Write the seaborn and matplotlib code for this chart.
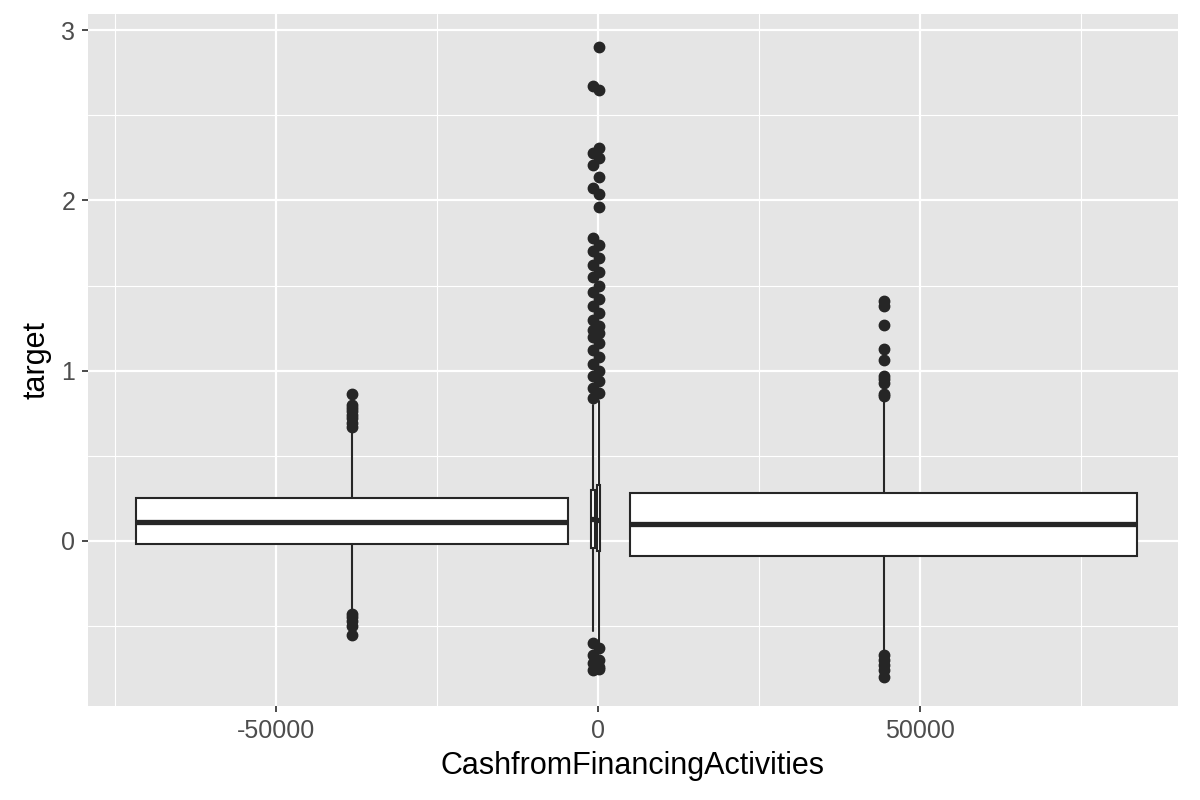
import numpy as np
import matplotlib
matplotlib.use("Agg")
import matplotlib.pyplot as plt
import seaborn as sns

# box positions / widths on the CashfromFinancingActivities axis
positions = [-38200, -800, 100, 44400]
widths = [67000, 600, 350, 78700]

# five-number summaries
q1 = [-0.02, -0.04, -0.06, -0.09]
med = [0.11, 0.13, 0.12, 0.10]
q3 = [0.25, 0.30, 0.33, 0.28]
whislo = [-0.42, -0.53, -0.60, -0.65]
whishi = [0.65, 0.80, 0.82, 0.84]

fliers_left = [0.86, 0.80, 0.78, 0.76, 0.74, 0.72, 0.69, 0.67,
               -0.43, -0.45, -0.47, -0.50, -0.55]
fliers_mid_a = [2.67, 2.28, 2.21, 2.07, 1.78, 1.70, 1.62, 1.55, 1.46, 1.38,
                1.30, 1.24, 1.20, 1.12, 1.04, 0.97, 0.90, 0.84,
                -0.60, -0.67, -0.72, -0.76]
fliers_mid_b = [2.90, 2.65, 2.31, 2.25, 2.14, 2.04, 1.96, 1.74, 1.66, 1.58,
                1.50, 1.42, 1.34, 1.26, 1.22, 1.16, 1.08, 1.00, 0.94, 0.87,
                -0.63, -0.70, -0.74, -0.75]
fliers_right = [1.41, 1.38, 1.27, 1.13, 1.06, 0.97, 0.95, 0.93, 0.86, 0.85,
                -0.67, -0.70, -0.73, -0.76, -0.80]
fliers = [fliers_left, fliers_mid_a, fliers_mid_b, fliers_right]

sns.set_theme(style="darkgrid", rc={
    "axes.facecolor": "#E5E5E5",
    "grid.color": "white",
    "axes.edgecolor": "none",
})
plt.rcParams["font.family"] = ["Liberation Sans", "DejaVu Sans"]

fig = plt.figure(figsize=(12, 8), dpi=100)
ax = fig.add_axes([0.0733, 0.1175, 0.9084, 0.865])

stats = []
for i in range(len(positions)):
    stats.append({
        "q1": q1[i], "med": med[i], "q3": q3[i],
        "whislo": whislo[i], "whishi": whishi[i], "fliers": fliers[i],
    })

dark = "#262626"
ax.bxp(
    stats, positions=positions, widths=widths, patch_artist=True,
    showcaps=False, manage_ticks=False,
    boxprops=dict(facecolor="white", edgecolor=dark, linewidth=1.5),
    medianprops=dict(color=dark, linewidth=3.8, solid_capstyle="butt"),
    whiskerprops=dict(color=dark, linewidth=1.5),
    flierprops=dict(marker="o", markerfacecolor=dark, markeredgecolor=dark,
                    markersize=7.5, linestyle="none"),
    zorder=3,
)

ax.set_xlim(-79200, 90100)
ax.set_ylim(-0.97, 3.095)
ax.set_xticks([-50000, 0, 50000])
ax.set_xticklabels(["-50000", "0", "50000"])
ax.set_yticks([0, 1, 2, 3])
ax.set_xticks([-75000, -25000, 25000, 75000], minor=True)
ax.set_yticks([-0.5, 0.5, 1.5, 2.5], minor=True)
ax.grid(which="major", color="white", linewidth=1.6)
ax.grid(which="minor", color="white", linewidth=0.8)
ax.tick_params(which="major", length=4, color="#333333", labelsize=18,
               labelcolor="#4D4D4D", bottom=True, left=True, pad=5)
ax.tick_params(which="minor", length=0)
ax.set_xlabel("CashfromFinancingActivities", fontsize=22, color="black", labelpad=6)
ax.set_ylabel("target", fontsize=22, color="black", labelpad=7)

fig.savefig("out.png", dpi=100)
